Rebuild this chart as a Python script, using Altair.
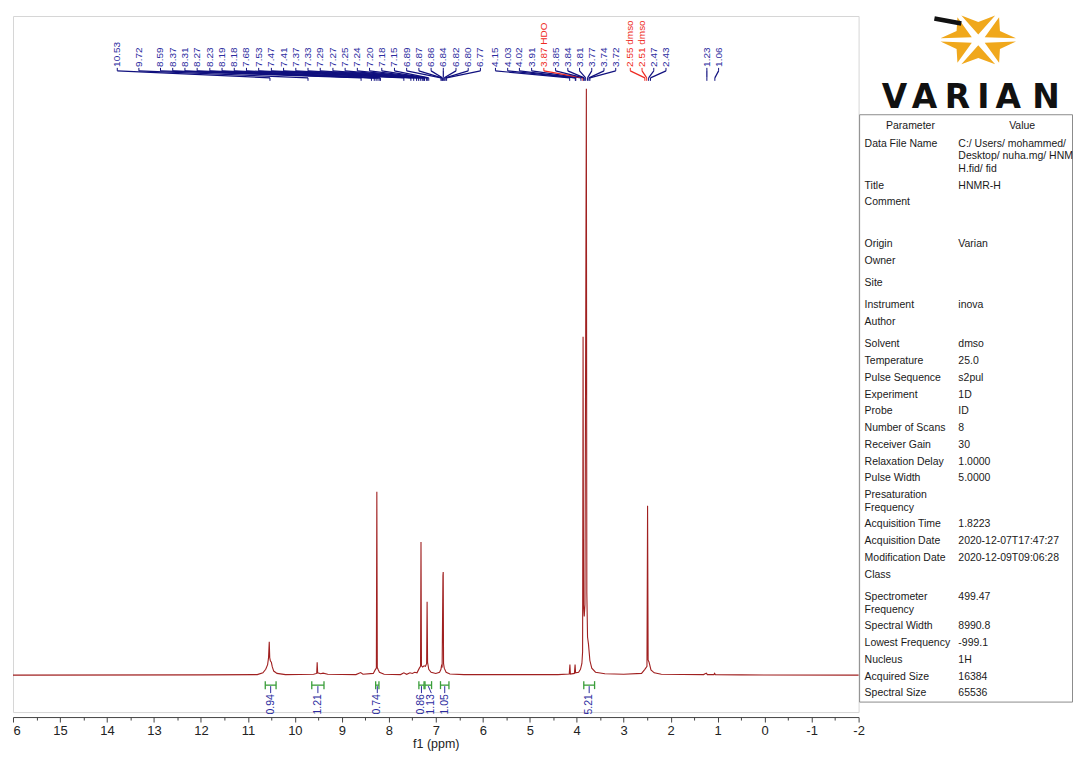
import math
import altair as alt
import pandas as pd

# ---------------- spectrum trace (ppm, relative intensity; tallest = 100)
spec_ppm = [16.00, 12.00, 10.80, 10.68, 10.62, 10.58, 10.56, 10.545, 10.535, 10.52, 10.50, 10.48, 10.45, 10.38, 10.20,
            9.60, 9.535, 9.525, 9.515, 9.45, 9.40, 9.30,
            8.70, 8.60, 8.55, 8.33, 8.29, 8.265, 8.255, 8.245, 8.23, 8.20, 8.10,
            7.75, 7.68, 7.62, 7.55, 7.50, 7.45, 7.40, 7.35, 7.325, 7.315, 7.305, 7.28, 7.25, 7.22, 7.195, 7.185, 7.175, 7.15, 7.10,
            7.00, 6.92, 6.89, 6.875, 6.865, 6.848, 6.842, 6.835, 6.82, 6.78, 6.70, 6.40,
            4.40, 4.16, 4.145, 4.135, 4.05, 4.035, 4.025, 3.96, 3.92, 3.89, 3.875, 3.865, 3.855, 3.84, 3.825, 3.795, 3.785, 3.77, 3.75, 3.72, 3.68, 3.60, 3.40, 3.00,
            2.62, 2.55, 2.505, 2.492, 2.48, 2.46, 2.42, 2.35, 2.20,
            1.30, 1.24, 1.22, 1.08, 1.065, 1.05, 0.50, -2.00]
spec_int = [0.0, 0.05, 0.1, 0.4, 1.0, 1.8, 3.0, 5.7, 3.0, 2.4, 2.2, 1.4, 0.7, 0.3, 0.1,
            0.15, 0.3, 2.2, 0.4, 0.25, 0.35, 0.15,
            0.1, 0.45, 0.15, 0.3, 0.9, 1.2, 31.3, 1.3, 1.0, 0.5, 0.15,
            0.1, 0.4, 0.15, 0.4, 0.3, 0.5, 0.4, 1.2, 1.5, 22.7, 1.6, 1.4, 1.6, 1.5, 2.0, 12.5, 2.2, 1.0, 0.5,
            0.3, 0.5, 1.0, 1.8, 1.3, 17.0, 17.6, 2.0, 1.2, 0.5, 0.2, 0.1,
            0.1, 0.2, 1.8, 0.2, 0.3, 1.8, 0.4, 0.5, 1.0, 2.0, 4.0, 57.7, 12.0, 10.0, 12.0, 100.0, 14.0, 6.5, 5.3, 2.5, 1.2, 0.5, 0.25, 0.15,
            0.3, 1.0, 1.5, 28.9, 2.6, 2.2, 0.9, 0.4, 0.15,
            0.1, 0.35, 0.1, 0.1, 0.3, 0.1, 0.05, 0.0]

# ---------------- peak labels
peak_values = ["10.53", "9.72", "8.59", "8.37", "8.31", "8.27", "8.23", "8.19", "8.18", "7.68",
               "7.53", "7.47", "7.41", "7.37", "7.33", "7.29", "7.27", "7.25", "7.24", "7.20",
               "7.18", "7.15", "6.89", "6.87", "6.86", "6.84", "6.82", "6.80", "6.77",
               "4.15", "4.03", "4.02", "3.91", "3.87", "3.85", "3.84", "3.81", "3.77", "3.74", "3.72",
               "2.55", "2.51", "2.47", "2.43",
               "1.23", "1.06"]
peak_tags = [""] * 33 + ["HDO"] + [""] * 6 + ["dmso", "dmso", "", ""] + ["", ""]
# where each label text sits along the ppm axis (label-spreading slots)
label_slot = [13.78, 13.32, 12.86, 12.60, 12.34, 12.08, 11.81, 11.55, 11.29, 11.03,
              10.77, 10.50, 10.24, 9.98, 9.72, 9.46, 9.19, 8.93, 8.67, 8.41,
              8.15, 7.88, 7.62, 7.36, 7.10, 6.84, 6.57, 6.31, 6.05,
              5.73, 5.47, 5.22, 4.96, 4.70, 4.45, 4.19, 3.94, 3.68, 3.42, 3.17,
              2.86, 2.61, 2.36, 2.10,
              1.23, 0.98]

# ---------------- integrals
integral_text = ["0.94", "1.21", "0.74", "0.86", "1.13", "1.05", "5.21"]
integral_from = [10.63, 9.64, 8.28, 7.36, 7.23, 6.90, 3.85]
integral_to = [10.40, 9.38, 8.21, 7.25, 7.09, 6.72, 3.62]

# ---------------- parameter table
param_names = ["Data File Name", "Title", "Comment", "Origin", "Owner", "Site", "Instrument", "Author",
               "Solvent", "Temperature", "Pulse Sequence", "Experiment", "Probe", "Number of Scans",
               "Receiver Gain", "Relaxation Delay", "Pulse Width", "Presaturation\nFrequency",
               "Acquisition Time", "Acquisition Date", "Modification Date", "Class",
               "Spectrometer\nFrequency", "Spectral Width", "Lowest Frequency", "Nucleus",
               "Acquired Size", "Spectral Size"]
param_values = [["C:/ Users/ mohammed/", "Desktop/ nuha.mg/ HNMR-", "H.fid/ fid"], ["HNMR-H"], ["", "", ""],
                ["Varian"], [], [], ["inova"], [],
                ["dmso"], ["25.0"], ["s2pul"], ["1D"], ["ID"], ["8"],
                ["30"], ["1.0000"], ["5.0000"], [],
                ["1.8223"], ["2020-12-07T17:47:27"], ["2020-12-09T09:06:28"], [],
                ["499.47"], ["8990.8"], ["-999.1"], ["1H"],
                ["16384"], ["65536"]]
logo_letters = list("VARIAN")

# ================= styling / layout
TOP = 14                 # page y of the plot frame top
PAD_TOP = TOP - 8
W, H = 848, 698
PW = 215


def P(page_y):
    """page pixel row -> pixel row inside the plot area"""
    return page_y - TOP


BASE_PX = P(675.0)       # spectrum baseline row
PX_PER_UNIT = 5.88
LABEL_FONT = "Liberation Sans"
NAVY = "#10107e"
LBLUE = "#2c2ca0"
RED = "#ee2a22"
GREEN = "#3a9e3a"
TABLE_FONT = "Liberation Sans"

xscale = alt.Scale(domain=[-2, 16], reverse=True, nice=False, zero=False)
yscale = alt.Scale(domain=[-(H - BASE_PX) / PX_PER_UNIT, BASE_PX / PX_PER_UNIT], nice=False, zero=False)
tick_values = [16 - 0.5 * i for i in range(37)]
xaxis = alt.Axis(
    values=tick_values,
    labelExpr="datum.value % 1 != 0 ? '' : (datum.value == 16 ? '6' : '' + datum.value)",
    tickSize={"condition": {"test": "datum.value % 1 != 0", "value": 3}, "value": 5},
    labelAlign={"condition": {"test": "datum.value == 16", "value": "left"}, "value": "center"},
    offset=5, grid=False, domainColor="#444", tickColor="#444", labelColor="#222",
    labelFont="Liberation Sans Narrow, Liberation Sans", labelFontSize=13, labelPadding=3,
    labelOverlap=False, labelBound=False, labelFlush=False,
    title="f1 (ppm)", titleFont="Liberation Sans Narrow, Liberation Sans", titleFontSize=12.5,
    titleFontWeight="normal", titleColor="#222", titlePadding=0,
)


def X(field):
    return alt.X(field, type="quantitative", scale=xscale, axis=xaxis)


spec_df = pd.DataFrame({"ppm": spec_ppm, "intensity": spec_int})
line = alt.Chart(spec_df).mark_line(color="#a02020", strokeWidth=1.1).encode(
    x=X("ppm"), y=alt.Y("intensity:Q", scale=yscale, axis=None)
)

lab_df = pd.DataFrame({
    "slot": label_slot,
    "ppm": [float(v) for v in peak_values],
    "label": [v + (" " + t if t else "") for v, t in zip(peak_values, peak_tags)],
    "tcol": [RED if t else LBLUE for t in peak_tags],
    "lcol": [RED if t else NAVY for t in peak_tags],
})
lab_text = alt.Chart(lab_df).mark_text(angle=270, align="left", baseline="middle",
                                       font=LABEL_FONT, fontSize=10).encode(
    x=X("slot"), y=alt.value(P(65)), text="label:N", color=alt.Color("tcol:N", scale=None))
lab_tick = alt.Chart(lab_df).mark_rule(strokeWidth=1).encode(
    x=X("slot"), y=alt.value(P(66)), y2=alt.value(P(69)), color=alt.Color("lcol:N", scale=None))
lab_slant = alt.Chart(lab_df).mark_rule(strokeWidth=1.2).encode(
    x=X("slot"), x2="ppm:Q", y=alt.value(P(69)), y2=alt.value(P(76)), color=alt.Color("lcol:N", scale=None))
lab_foot = alt.Chart(lab_df).mark_rule(strokeWidth=1).encode(
    x=X("ppm"), y=alt.value(P(76)), y2=alt.value(P(79)), color=alt.Color("lcol:N", scale=None))

# integral label slots: centred on the region, pushed apart when too close
centers = [(a + b) / 2 for a, b in zip(integral_from, integral_to)]
slots = []
for c in centers:
    if slots and slots[-1] - c < 0.21:
        slots.append(slots[-1] - 0.21)
    else:
        slots.append(c)
int_df = pd.DataFrame({"text": integral_text, "a": integral_from, "b": integral_to,
                       "c": centers, "slot": slots})
cap_df = pd.DataFrame({"edge": integral_from + integral_to})
int_bar = alt.Chart(int_df).mark_rule(color=GREEN, strokeWidth=1.3).encode(
    x=X("a"), x2="b:Q", y=alt.value(P(685)))
int_cap = alt.Chart(cap_df).mark_rule(color=GREEN, strokeWidth=1.3).encode(
    x=X("edge"), y=alt.value(P(681)), y2=alt.value(P(689)))
int_conn = alt.Chart(int_df).mark_rule(color=LBLUE, strokeWidth=1).encode(
    x=X("c"), x2="slot:Q", y=alt.value(P(686)), y2=alt.value(P(693)))
int_text = alt.Chart(int_df).mark_text(angle=270, align="right", baseline="middle",
                                       font=LABEL_FONT, fontSize=10.5, color=LBLUE).encode(
    x=X("slot"), y=alt.value(P(694)), text="text:N")

spectrum = alt.layer(line, lab_tick, lab_slant, lab_foot, lab_text,
                     int_bar, int_cap, int_conn, int_text).properties(width=W, height=H)

# ================= right panel (logo + parameter table), coordinates = page pixels
PX0 = 10 + W            # page x of the panel's left edge
pxs = alt.Scale(domain=[PX0, PX0 + PW], nice=False, zero=False)
pys = alt.Scale(domain=[TOP, TOP + H], reverse=True, nice=False, zero=False)


def PX(f):
    return alt.X(f, type="quantitative", scale=pxs, axis=None)


def PY(f):
    return alt.Y(f, type="quantitative", scale=pys, axis=None)


# gold starburst: six inward-pointing chevrons
parts = []
for k in range(6):
    th = math.radians(30 + 60 * k)
    ux, uy = math.cos(th), math.sin(th)
    vx, vy = -uy, ux
    pts = [(0.22 * ux, 0.22 * uy), (ux + 0.50 * vx, uy + 0.50 * vy),
           (0.74 * ux, 0.74 * uy), (ux - 0.50 * vx, uy - 0.50 * vy)]
    pts = [(x, -0.72 * y) for x, y in pts]
    parts.append("M" + " L".join(f"{x:.3f} {y:.3f}" for x, y in pts) + " Z")
star_path = " ".join(parts)

star = alt.Chart(pd.DataFrame({"x": [978], "y": [38]})).mark_point(
    shape=star_path, filled=True, size=4600, color="#f0a81c", opacity=1, strokeWidth=0).encode(
    x=PX("x"), y=PY("y"))
bar = alt.Chart(pd.DataFrame({"x": [934], "y": [16.5], "x2": [961], "y2": [21.5]})).mark_rule(
    color="#111", strokeWidth=4.5).encode(x=PX("x"), y=PY("y"), x2="x2:Q", y2="y2:Q")
letter_x = [894, 924, 957, 983, 1008, 1046]
letters = alt.Chart(pd.DataFrame({"t": logo_letters, "x": letter_x, "y": [106] * 6})).mark_text(
    font="DejaVu Sans", fontWeight="bold", fontSize=33, baseline="alphabetic", align="center",
    color="#111").encode(x=PX("x"), y=PY("y"), text="t:N")

box = alt.Chart(pd.DataFrame({"x": [859], "x2": [PX0 + PW - 0.5], "y": [113], "y2": [702]})).mark_rect(
    fill="white", stroke="#8c8c8c", strokeWidth=1).encode(x=PX("x"), x2="x2:Q", y=PY("y"), y2="y2:Q")

head = alt.Chart(pd.DataFrame({"t": ["Parameter", "Value"], "x": [910, 1022], "y": [124, 124]})).mark_text(
    font=TABLE_FONT, fontSize=10.5, color="#1a1a1a", align="center", baseline="middle").encode(
    x=PX("x"), y=PY("y"), text="t:N")

LINE_H = 12.6
name_rows, value_rows = [], []
y = 142.0
for name, vals in zip(param_names, param_values):
    nlines = name.split("\n")
    for j, s in enumerate(nlines):
        name_rows.append({"t": s, "x": 864, "y": y + j * LINE_H})
    for j, s in enumerate(vals):
        if s:
            value_rows.append({"t": s, "x": 958, "y": y + j * LINE_H})
    n = max(len(nlines), len(vals), 1)
    h = 4.2 + LINE_H * n
    if not vals:
        h = max(h, 22.3)
    y += h

names = alt.Chart(pd.DataFrame(name_rows)).mark_text(
    font=TABLE_FONT, fontSize=10.5, color="#1a1a1a", align="left", baseline="middle").encode(
    x=PX("x"), y=PY("y"), text="t:N")
values = alt.Chart(pd.DataFrame(value_rows)).mark_text(
    font=TABLE_FONT, fontSize=10.5, color="#1a1a1a", align="left", baseline="middle", clip=True).encode(
    x=PX("x"), y=PY("y"), text="t:N")

panel = alt.layer(star, bar, letters, box, head, names, values).properties(
    width=PW, height=H, view=alt.ViewBackground(strokeOpacity=0))

chart = alt.hconcat(spectrum, panel, spacing=0, bounds="flush").properties(
    padding={"left": 2, "top": PAD_TOP, "right": 0, "bottom": 0}
).configure_view(stroke="#d6d6d6", strokeWidth=1)

chart.save("out.html", embed_options={"renderer": "svg", "actions": False})
